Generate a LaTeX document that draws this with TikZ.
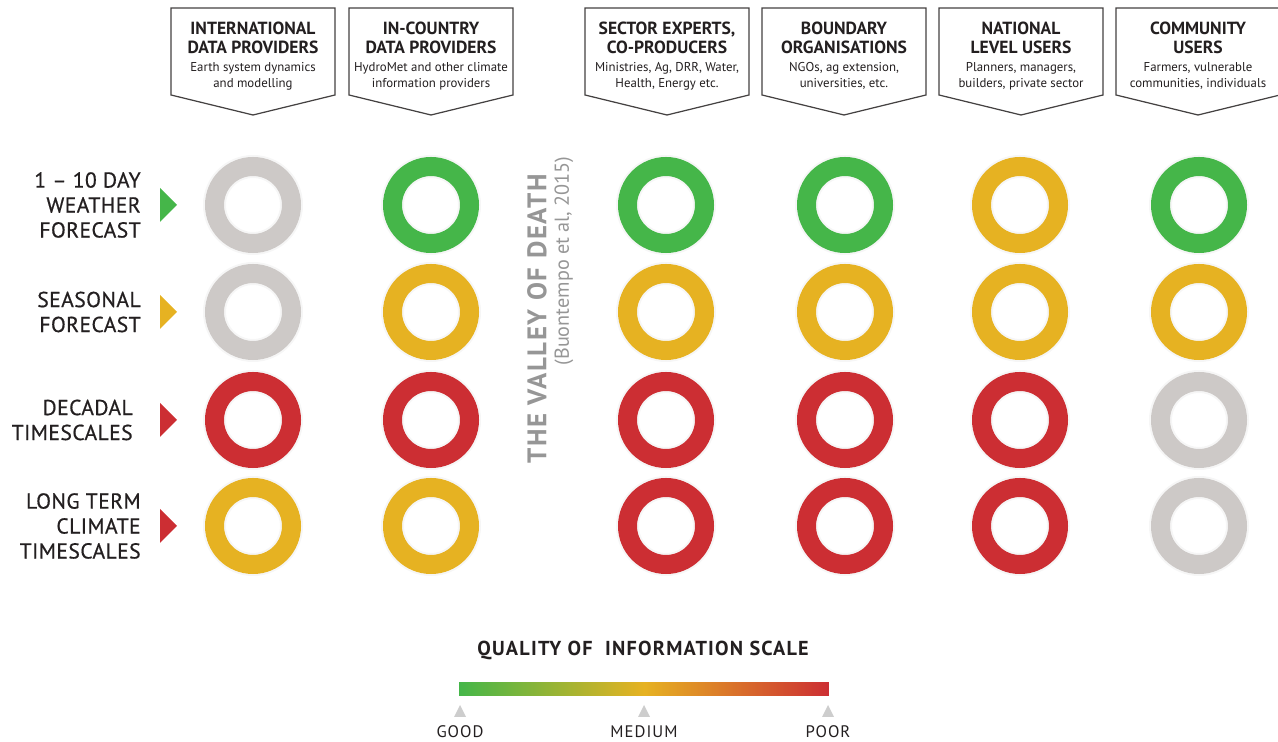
\documentclass[tikz,border=0pt]{standalone}
\usepackage{fontspec}
\setmainfont{PT Sans}
\newfontfamily\spacedfont[LetterSpace=6, Ligatures=TeX]{PT Sans}
\newfontfamily\labelfont[FakeBold=0.6, LetterSpace=2, Ligatures=TeX]{PT Sans}
\usetikzlibrary{positioning}
\definecolor{good}{RGB}{69,182,73}
\definecolor{medium}{RGB}{230,178,34}
\definecolor{poor}{RGB}{204,46,51}
\definecolor{nodata}{RGB}{205,201,199}
\definecolor{ink}{RGB}{35,31,32}
\definecolor{valleygray}{RGB}{150,150,150}
\definecolor{markgray}{RGB}{205,205,205}
\tikzstyle{banner} = [draw=ink!85, line width=0.7pt, fill=white]
\tikzstyle{heading} = [align=center, inner sep=0pt, text=ink, font=\bfseries\fontsize{10}{10.6}\selectfont]
\tikzstyle{subheading} = [align=center, inner sep=0pt, text=ink, font=\fontsize{7.3}{9}\selectfont]
\tikzstyle{rowlabel} = [align=right, anchor=east, inner sep=0pt, text=ink, font=\labelfont\fontsize{12.3}{14.2}\selectfont]
\tikzstyle{ring} = [line width=0.38cm, preaction={draw=black, opacity=0.035, line width=0.46cm}]
\tikzstyle{scalelabel} = [inner sep=0pt, text=ink, font=\spacedfont\fontsize{9.5}{10}\selectfont]

\begin{document}
\begin{tikzpicture}[x=0.02cm, y=0.02cm]
        \useasboundingbox (0,0) rectangle (1278,-742);

        % Headers
        \foreach \name/\x/\title/\sub in {
            intl/253/{INTERNATIONAL\\DATA PROVIDERS}/{Earth system dynamics\\and modelling},
            incountry/431/{IN-COUNTRY\\DATA PROVIDERS}/{HydroMet and other climate\\information providers},
            sector/667/{SECTOR EXPERTS,\\CO-PRODUCERS}/{Ministries, Ag, DRR, Water,\\Health, Energy etc.},
            boundary/844/{BOUNDARY\\ORGANISATIONS}/{NGOs, ag extension,\\universities, etc.},
            national/1021/{NATIONAL\\LEVEL USERS}/{Planners, managers,\\builders, private sector},
            community/1198/{COMMUNITY\\USERS}/{Farmers, vulnerable\\communities, individuals}}
        {
            \draw [banner] (\x-82,-8) -- (\x+82,-8) -- (\x+82,-95) -- (\x,-115) -- (\x-82,-95) -- cycle;
            \node (\name) [heading] at (\x,-38) {\title};
            \node (\name-sub) [subheading, below of=\name, node distance=0.76cm] {\sub};
        }

        % Row labels and markers
        \foreach \row/\lx/\y/\label/\tri in {
            weather/141/205/{1 – 10 DAY\\WEATHER\\FORECAST}/good,
            seasonal/141/312/{SEASONAL\\FORECAST}/medium,
            decadal/133/420/{DECADAL\\TIMESCALES}/poor,
            longterm/141/526/{LONG TERM\\CLIMATE\\TIMESCALES}/poor}
        {
            \node (\row) [rowlabel] at (\lx,-\y) {\label};
            \coordinate (\row-tip) at (177,-\y);
            \fill [\tri] (\row-tip) -- ++(-17,17) -- ++(0,-34) -- cycle;
        }

        % Rings
        \foreach \row/\y/\colours in {
            weather/205/{nodata,good,good,good,medium,good},
            seasonal/312/{nodata,medium,medium,medium,medium,medium},
            decadal/420/{poor,poor,poor,poor,poor,nodata},
            longterm/526/{medium,medium,poor,poor,poor,nodata}}
        {
            \foreach \c [count=\i] in \colours
            {
                \pgfmathsetmacro\cx{{253,431,666,845,1020,1199}[\i-1]}
                \coordinate (\row-\i) at (\cx,-\y);
                \draw [ring, \c] (\row-\i) circle (38.5);
            }
        }

        % Valley of death
        \node (valley) [rotate=90, inner sep=0pt, text=valleygray, font=\bfseries\spacedfont\fontsize{15.3}{16}\selectfont] at (537,-319) {THE VALLEY OF DEATH};
        \node (source) [rotate=90, inner sep=0pt, text=valleygray, font=\fontsize{11.5}{12}\selectfont] at (564,-261) {(Buontempo et al, 2015)};

        % Scale
        \node (scaletitle) [inner sep=0pt, text=ink, font=\bfseries\spacedfont\fontsize{11.5}{12}\selectfont] at (643,-650) {QUALITY OF\ \ INFORMATION SCALE};
        \node (bar) [rectangle, inner sep=0pt, minimum width=7.4cm, minimum height=0.28cm, left color=good, right color=poor, middle color=medium] at (644,-689) {};
        \foreach \name/\x/\text in {good/460/GOOD, medium/644/MEDIUM, poor/828/POOR}
        {
            \coordinate (\name-mark) at (\x,-705);
            \fill [markgray] (\name-mark) -- ++(6,-12) -- ++(-12,0) -- cycle;
            \node (\name-label) [scalelabel] at (\x,-732) {\text};
        }

    \end{tikzpicture}
\end{document}
